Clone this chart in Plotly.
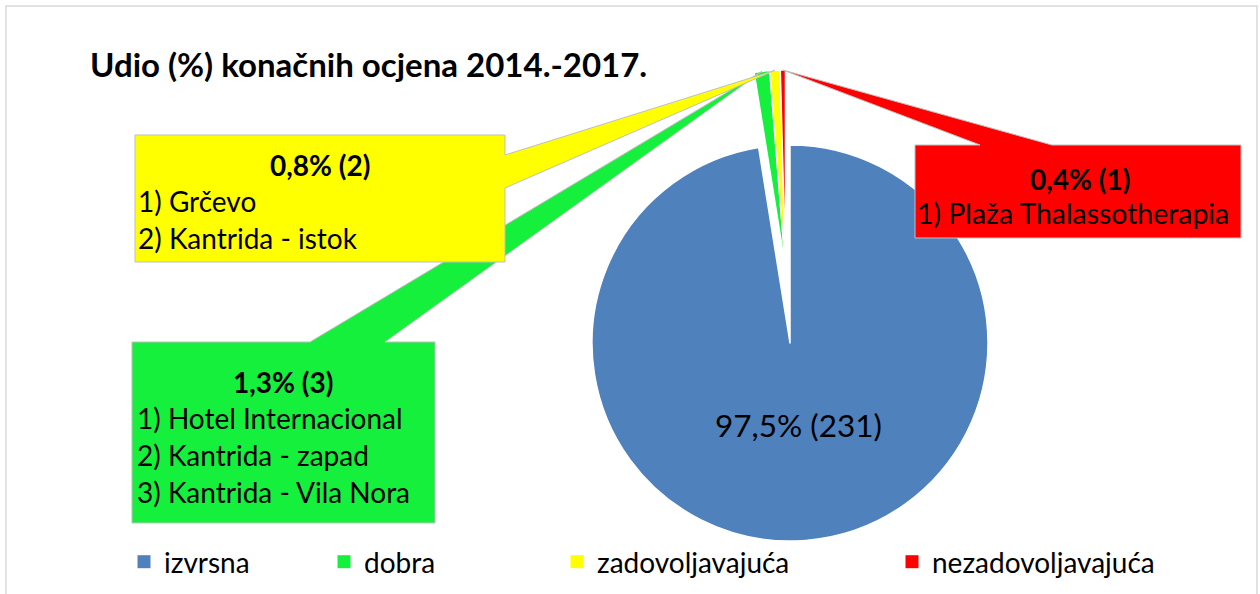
import math
import plotly.graph_objects as go

# ---------------- data ----------------
categories = ["izvrsna", "dobra", "zadovoljavajuća", "nezadovoljavajuća"]
counts = [231, 3, 2, 1]
colors = ["#4F81BD", "#14F03C", "#FFFF00", "#FF0000"]
title_text = "Udio (%) konačnih ocjena 2014.-2017."
locations = {
    "dobra": ["Hotel Internacional", "Kantrida - zapad", "Kantrida - Vila Nora"],
    "zadovoljavajuća": ["Grčevo", "Kantrida - istok"],
    "nezadovoljavajuća": ["Plaža Thalassotherapia"],
}

# ---------------- layout helpers ----------------
W, H = 1260, 594
FONT = "Lato"


def px(x):
    return x / W


def py(y):
    return 1 - y / H


total = sum(counts)


def label(v):
    return f"{v / total * 100:.1f}".replace(".", ",") + f"% ({v})"


TRANSP = "rgba(0,0,0,0)"

# main pie (large slice) geometry in pixels
R = 198
CX, CY = 790, 343
# exploded small slices: same pie, shifted
EX, EY = CX - 4.5, CY - 75

fig = go.Figure()

fig.add_trace(go.Pie(
    labels=categories, values=counts, sort=False, direction="clockwise", rotation=0,
    marker=dict(colors=[colors[0], TRANSP, TRANSP, TRANSP],
                line=dict(color="white", width=[1.5, 0, 0, 0])),
    textinfo="none", hoverinfo="skip", showlegend=False,
    domain=dict(x=[px(CX - R), px(CX + R)], y=[py(CY + R), py(CY - R)]),
))
fig.add_trace(go.Pie(
    labels=categories, values=counts, sort=False, direction="clockwise", rotation=0,
    marker=dict(colors=[TRANSP] + colors[1:],
                line=dict(color="white", width=[0, 1.5, 1.5, 1.5])),
    textinfo="none", hoverinfo="skip", showlegend=False,
    domain=dict(x=[px(EX - R), px(EX + R)], y=[py(EY + R), py(EY - R)]),
))

# legend entries (one legend per entry, spread across the bottom)
legend_text_x = [164, 364, 597, 932]
for i, (cat, col) in enumerate(zip(categories, colors)):
    lname = "legend" if i == 0 else f"legend{i + 1}"
    fig.add_trace(go.Scatter(
        x=[None], y=[None], mode="markers", name=cat, legend=lname,
        marker=dict(symbol="square", size=13, color=col),
        showlegend=True, hoverinfo="skip",
    ))

# slice geometry for callout tips
angles = []
acc = 0
for v in counts:
    start = acc / total * 360
    acc += v
    end = acc / total * 360
    angles.append((start + end) / 2)


def tip(i):
    a = math.radians(angles[i])
    return EX + R * math.sin(a), EY - R * math.cos(a)


def P(x, y):
    return f"{px(x):.5f},{py(y):.5f}"


shapes = []
# chart area border
shapes.append(dict(type="rect", xref="paper", yref="paper",
                   x0=px(6), x1=px(1257), y0=py(600), y1=py(6),
                   line=dict(color="#D9D9D9", width=1.5), fillcolor=TRANSP, layer="below"))

# yellow callout (zadovoljavajuća)
tx, ty = tip(2)
path_y = (f"M {P(135,135)} L {P(505,135)} L {P(505,155)} L {P(tx,ty)} "
          f"L {P(505,188)} L {P(505,262)} L {P(135,262)} Z")
# green callout (dobra)
gx, gy = tip(1)
path_g = (f"M {P(132,342)} L {P(310,342)} L {P(gx,gy)} L {P(385,342)} "
          f"L {P(435,342)} L {P(435,523)} L {P(132,523)} Z")
# red callout (nezadovoljavajuća)
rx, ry = tip(3)
path_r = (f"M {P(915,145)} L {P(980,145)} L {P(rx,ry)} L {P(1052,145)} "
          f"L {P(1241,145)} L {P(1241,238)} L {P(915,238)} Z")
for pth, col in [(path_g, colors[1]), (path_y, colors[2]), (path_r, colors[3])]:
    shapes.append(dict(type="path", path=pth, xref="paper", yref="paper",
                       fillcolor=col, line=dict(color="#BFBFBF", width=1), layer="above"))

annotations = []


def ann(text, x, y, size, bold=False, anchor="left"):
    t = f"<b>{text}</b>" if bold else text
    annotations.append(dict(text=t, x=px(x), y=py(y), xref="paper", yref="paper",
                            xanchor=anchor, yanchor="middle", showarrow=False,
                            font=dict(family=FONT, size=size, color="black")))


ann(title_text, 88, 64, 33, bold=True)
ann(label(counts[0]), 798, 425, 31.5, anchor="center")

# yellow box text
ann(label(counts[2]), 320, 165, 28, bold=True, anchor="center")
for k, name in enumerate(locations["zadovoljavajuća"]):
    ann(f"{k + 1}) {name}", 136, 201 + k * 37, 28)
# green box text
ann(label(counts[1]), 283, 382, 28, bold=True, anchor="center")
for k, name in enumerate(locations["dobra"]):
    ann(f"{k + 1}) {name}", 135, 418 + k * 37, 28)
# red box text
ann(label(counts[3]), 1080, 179, 28, bold=True, anchor="center")
for k, name in enumerate(locations["nezadovoljavajuća"]):
    ann(f"{k + 1}) {name}", 915, 213 + k * 37, 28.4)

layout_legends = {}
for i, lx in enumerate(legend_text_x):
    lname = "legend" if i == 0 else f"legend{i + 1}"
    layout_legends[lname] = dict(
        x=px(lx - 40), y=py(562), xanchor="left", yanchor="middle",
        orientation="h", bgcolor=TRANSP, borderwidth=0,
        font=dict(family=FONT, size=28, color="black"),
    )

fig.update_layout(
    width=W, height=H, margin=dict(l=0, r=0, t=0, b=0),
    paper_bgcolor="white", plot_bgcolor="white",
    xaxis=dict(visible=False), yaxis=dict(visible=False),
    shapes=shapes, annotations=annotations,
    **layout_legends,
)

fig.write_html(
    "out.html",
    config={"displayModeBar": False},
    post_script="document.body.style.margin='0';document.body.style.overflow='hidden';",
)
